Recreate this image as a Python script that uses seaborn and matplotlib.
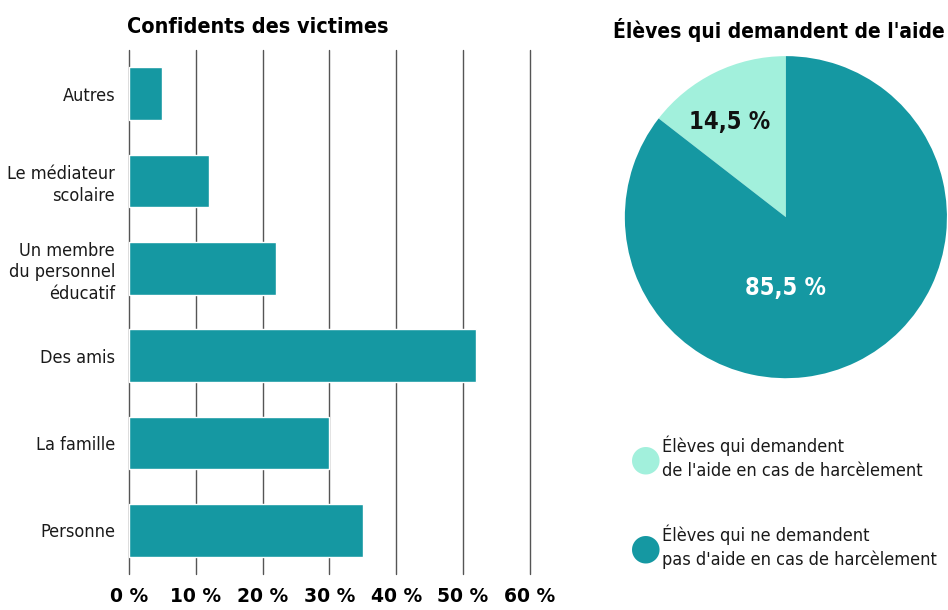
# -*- coding: utf-8 -*-

### Confidents des victimes + élèves qui demandent de l'aide ###

import pandas as pd
import matplotlib.pyplot as plt
import seaborn as sns

## Data ##
categories = ["Autres", "Le médiateur\nscolaire", "Un membre\ndu personnel\néducatif",
              "Des amis", "La famille", "Personne"]
values = [5, 12, 22, 52, 30, 35]
x_ticks = [0, 10, 20, 30, 40, 50, 60]
x_tick_labels = ["0 %", "10 %", "20 %", "30 %", "40 %", "50 %", "60 %"]

pie_values = [14.5, 85.5]
pie_labels = ["14,5 %", "85,5 %"]
legend_labels = ["Élèves qui demandent\nde l'aide en cas de harcèlement",
                 "Élèves qui ne demandent\npas d'aide en cas de harcèlement"]

## Styles ##
teal = "#1598a2"
mint = "#a2f0dc"
sns.set_theme(style="white")
plt.rcParams['font.family'] = ['DejaVu Sans']
plt.rcParams['font.stretch'] = 'condensed'

df = pd.DataFrame({"Confident": categories, "Valeur": values})

fig = plt.figure(figsize=(9.48, 6.10), dpi=100)

## Bar chart ##
ax1 = fig.add_axes([0.136, 0.059, 0.423, 0.859])
sns.barplot(data=df, x="Valeur", y="Confident", color=teal, saturation=1,
            width=0.6, ax=ax1, zorder=3)
ax1.set_xlim(0, 60)
ax1.set_ylim(5.5, -0.5)
ax1.set_xticks(x_ticks)
ax1.set_xticklabels(x_tick_labels, fontsize=13.5, fontweight="bold", color="black",
                    fontstretch="normal")
ax1.tick_params(axis="x", length=0, pad=9)
ax1.tick_params(axis="y", length=0, pad=10, labelsize=13, labelcolor="#1a1a1a")
for lbl in ax1.get_yticklabels():
    lbl.set_linespacing(1.25)
ax1.xaxis.grid(True, color="#555555", linewidth=1)
for gl in ax1.xaxis.get_gridlines():
    gl.set_clip_on(False)
ax1.set_axisbelow(True)
for s in ax1.spines.values():
    s.set_visible(False)
ax1.set_xlabel("")
ax1.set_ylabel("")
fig.text(0.134, 0.955, "Confidents des victimes", fontsize=15.5, fontweight="bold",
         color="black", ha="left", va="center")

## Pie chart ##
ax2 = fig.add_axes([0.659, 0.380, 0.340, 0.528])
wedges, _ = ax2.pie(pie_values, colors=[mint, teal], startangle=90, counterclock=True,
                    wedgeprops={"linewidth": 0})
ax2.set_xlim(-1, 1)
ax2.set_ylim(-1, 1)
ax2.set_aspect("equal")
ax2.text(-0.35, 0.59, pie_labels[0], fontsize=17, fontweight="bold", color="#111111",
         ha="center", va="center")
ax2.text(0.0, -0.44, pie_labels[1], fontsize=17, fontweight="bold", color="white",
         ha="center", va="center")
fig.text(0.997, 0.951, "Élèves qui demandent de l'aide", fontsize=15, fontweight="bold",
         color="black", ha="right", va="center")

## Legend ##
for i, lab in enumerate(legend_labels):
    y = 0.250 - i * 0.146
    fig.text(0.681, y - 0.003, "●", color=[mint, teal][i], fontsize=26,
             ha="center", va="center", fontstretch="normal")
    fig.text(0.698, y, lab, fontsize=13, ha="left", va="center",
             linespacing=1.4, color="#1a1a1a")

plt.savefig("out.png", dpi=100)
